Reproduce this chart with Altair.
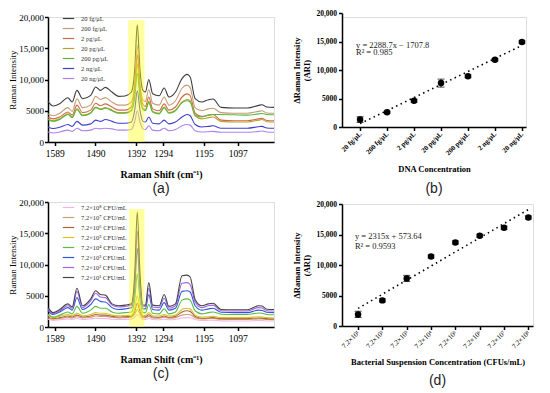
import altair as alt
import pandas as pd

SERIF = "Liberation Serif"
SANS = "Liberation Sans"

# ---------------- spectra (panels a, c) ----------------
# x = spectral point index (0-100 across the plotted range)
pos = [0, 2.3, 5.2, 8.8, 10.7, 12.8, 15.3, 18.9, 21.1, 23.2, 25.4, 28.3, 31.2, 34.1, 36.9,
       38.4, 39.5, 40.7, 42, 43.1, 44.6, 46.3, 49.2, 51.4, 53.5, 56.4, 59.3, 61.5, 62.9,
       65.1, 68, 71, 73, 76.6, 82.4, 88.2, 93.2, 94.7, 96.8, 100]
shift_tick_pos = [3, 21, 39, 51, 69, 84]
shift_tick_labels = ["1589", "1490", "1392", "1294", "1195", "1097"]
band_a = [35.5, 42.7, 19500]
band_c = [35.9, 42.7, 18900]

a_names = ["20 fg/μL", "200 fg/μL", "2 pg/μL", "20 pg/μL", "200 pg/μL", "2 ng/μL", "20 ng/μL"]
a_colors = ["#3c3c3c", "#c49c74", "#cf6a45", "#b9a232", "#5cb83c", "#3f3fcf", "#ad82ee"]
a_20fg = [6500, 5760, 6130, 7090, 6400, 8260, 6930, 7460, 8800, 8260, 8740, 8000, 7300, 7360, 8000,
          11700, 18760, 11500, 8260, 8000, 10000, 7730, 7400, 8640, 7200, 8000, 10130, 10820, 10400,
          6930, 6400, 6770, 6880, 5540, 5440, 5440, 5860, 5970, 5600, 5540]
a_200fg = [4530, 4200, 4600, 5500, 4900, 6900, 5500, 5900, 7300, 6800, 7100, 6400, 5900, 5900, 6400,
           9500, 15500, 9400, 6700, 6500, 8400, 6200, 5900, 7200, 5900, 6600, 8600, 9100, 8700,
           5500, 5000, 5300, 5400, 4700, 4600, 4600, 4900, 5000, 4650, 4600]
a_2pg = [4000, 3700, 4000, 4800, 4300, 5900, 4700, 5100, 6200, 5800, 6100, 5600, 5100, 5100, 5600,
         8600, 14000, 8500, 6000, 5700, 7200, 5300, 5000, 6100, 5100, 5600, 7200, 7700, 7400,
         4600, 4100, 4300, 4400, 3500, 3400, 3400, 3700, 3800, 3450, 3400]
a_20pg = [3700, 3400, 3700, 4500, 4000, 5300, 4300, 4700, 5600, 5300, 5500, 5100, 4700, 4700, 5100,
          7800, 12500, 7700, 5400, 5200, 6500, 4900, 4600, 5600, 4700, 5100, 6400, 6800, 6600,
          4200, 3700, 3900, 4000, 3300, 3200, 3200, 3500, 3600, 3250, 3200]
a_200pg = [3600, 3300, 3600, 4400, 3900, 5200, 4200, 4600, 5500, 5200, 5400, 5000, 4600, 4600, 5000,
           7200, 11000, 7100, 5200, 5000, 6300, 4800, 4500, 5500, 4600, 5000, 6300, 6600, 6400,
           4300, 4000, 4300, 4400, 4400, 4350, 4300, 4500, 4550, 4400, 4350]
a_2ng = [2400, 2150, 2350, 2800, 2500, 3300, 2700, 2900, 3500, 3300, 3600, 3300, 3000, 3000, 3200,
         5200, 8200, 5100, 3300, 3200, 4000, 3000, 2900, 3500, 2900, 3200, 4000, 4400, 4200,
         2800, 2400, 2500, 2600, 2200, 2200, 2200, 2450, 2500, 2250, 2200]
a_20ng = [1600, 1450, 1600, 1900, 1700, 2200, 1800, 1900, 2200, 2100, 2200, 2100, 1900, 1900, 2000,
          3300, 5000, 3200, 2100, 2000, 2600, 1900, 1800, 2200, 1800, 2000, 2600, 2800, 2700,
          1800, 1600, 1650, 1700, 1550, 1550, 1550, 1700, 1750, 1600, 1550]
a_series = [a_20fg, a_200fg, a_2pg, a_20pg, a_200pg, a_2ng, a_20ng]

c_names = ["7.2×10⁸ CFU/mL", "7.2×10⁷ CFU/mL", "7.2×10⁶ CFU/mL", "7.2×10⁵ CFU/mL",
           "7.2×10⁴ CFU/mL", "7.2×10³ CFU/mL", "7.2×10² CFU/mL", "7.2×10¹ CFU/mL"]
c_colors = ["#f2b6e6", "#c8a070", "#b0643a", "#d8c22a", "#5cbb42", "#3355e0", "#a465e6", "#454545"]
c_e8 = [1230, 1050, 1150, 1300, 1200, 1350, 1200, 1300, 1400, 1350, 1350, 1250, 1200, 1220, 1250,
        1600, 2000, 1600, 1220, 1220, 1350, 1200, 1150, 1250, 1150, 1200, 1450, 1500, 1480,
        1200, 1050, 1080, 1100, 980, 960, 960, 1030, 1020, 970, 960]
c_e7 = [1500, 1250, 1350, 1550, 1450, 1650, 1450, 1550, 1750, 1700, 1700, 1550, 1450, 1500, 1550,
        2100, 2800, 2100, 1500, 1500, 1700, 1450, 1400, 1550, 1400, 1500, 1900, 2000, 1950,
        1500, 1300, 1350, 1400, 1200, 1200, 1200, 1300, 1280, 1200, 1180]
c_e6 = [1660, 1350, 1500, 1750, 1600, 1900, 1600, 1750, 2000, 1900, 1900, 1700, 1600, 1650, 1700,
        2500, 3800, 2500, 1650, 1650, 1950, 1600, 1550, 1750, 1550, 1700, 2400, 2600, 2500,
        1700, 1400, 1450, 1500, 1350, 1340, 1340, 1450, 1420, 1340, 1300]
c_e5 = [1880, 1500, 1700, 2000, 1800, 2200, 1800, 2000, 2300, 2200, 2200, 1900, 1800, 1850, 1900,
        3000, 5000, 3000, 1850, 1850, 2300, 1800, 1750, 2000, 1750, 1900, 2800, 3000, 2900,
        1900, 1600, 1650, 1700, 1500, 1500, 1500, 1650, 1600, 1500, 1450]
c_e4 = [2050, 1600, 1900, 2400, 2100, 3300, 2200, 2700, 3300, 3000, 3000, 2400, 2200, 2300, 2400,
        4500, 8500, 4400, 2300, 2300, 3600, 2200, 2100, 2900, 2100, 2400, 4300, 4500, 4300,
        2600, 2100, 2300, 2400, 2050, 2000, 2000, 2250, 2200, 2000, 1950]
c_e3 = [2600, 2000, 2400, 3100, 2700, 4700, 2800, 3600, 4500, 4100, 4000, 3100, 2800, 2900, 3100,
        6300, 12600, 6200, 2900, 2900, 5200, 2800, 2700, 3900, 2700, 3000, 5700, 5800, 5600,
        3400, 2700, 2900, 3000, 2350, 2300, 2300, 2700, 2650, 2350, 2300]
c_e2 = [2850, 2100, 2600, 3400, 3000, 5700, 3100, 4200, 5400, 4800, 4700, 3500, 3200, 3300, 3500,
        7500, 15400, 7400, 3300, 3300, 6200, 3200, 3100, 4600, 3000, 3400, 7000, 7100, 6800,
        4000, 3100, 3400, 3500, 2600, 2550, 2550, 3100, 3050, 2600, 2550]
c_e1 = [3100, 2300, 2800, 3700, 3200, 6200, 3400, 4500, 5800, 5200, 5100, 3700, 3400, 3500, 3700,
        8700, 18400, 8600, 3500, 3500, 7100, 3500, 3400, 5200, 3300, 3700, 8200, 8300, 8000,
        4400, 3400, 3700, 3800, 2800, 2750, 2750, 3400, 3350, 2850, 2800]
c_series = [c_e8, c_e7, c_e6, c_e5, c_e4, c_e3, c_e2, c_e1]

# ---------------- calibration (panels b, d) ----------------
b_labels = ["20 fg/μL", "200 fg/μL", "2 pg/μL", "20 pg/μL", "200 pg/μL", "2 ng/μL", "20 ng/μL"]
b_vals = [1300, 2600, 4600, 7700, 8900, 11800, 14900]
b_err = [500, 150, 250, 700, 250, 200, 200]
b_fit_x = [1, 7]
b_fit_y = [590, 14310]
b_eq = ["y = 2288.7x − 1707.8", "R² = 0.985"]

d_labels = ["7.2×10¹", "7.2×10²", "7.2×10³", "7.2×10⁴", "7.2×10⁵", "7.2×10⁶", "7.2×10⁷", "7.2×10⁸"]
d_vals = [1900, 4200, 7800, 11400, 13700, 14800, 16100, 17800]
d_err = [500, 250, 500, 250, 250, 250, 250, 250]
d_fit_x = [1, 8]
d_fit_y = [2890, 19090]
d_eq = ["y = 2315x + 573.64", "R² = 0.9593"]

y_ticks = [0, 5000, 10000, 15000, 20000]
y_label_expr = "datum.value >= 10000 ? format(datum.value, ',') : format(datum.value, 'd')"


def axis_common(**kw):
    base = dict(domainColor="black", domainWidth=1.5, tickColor="black", tickWidth=1.5,
                tickSize=3.5, labelFont=SERIF, labelColor="black", titleFont=SERIF,
                titleColor="black", grid=False, labelOverlap=False, labelBound=False,
                labelFlush=False)
    base.update(kw)
    return alt.Axis(**base)


def spectrum(names, colors, series, band, legend_y, letter, w, h):
    rows = []
    for n, vals in zip(names, series):
        for p, v in zip(pos, vals):
            rows.append({"pos": p, "val": v, "series": n})
    df = pd.DataFrame(rows)
    expr = " : ".join(f"datum.value == {p} ? '{l}'" for p, l in zip(shift_tick_pos, shift_tick_labels)) + " : ''"
    xs = alt.Scale(domain=[0, 100], nice=False, zero=False)
    ys = alt.Scale(domain=[0, 20000], nice=False)
    xa = axis_common(values=shift_tick_pos, labelExpr=expr, title="Raman Shift (cm⁻¹)",
                     labelFontSize=9.5, titleFontSize=10, titleFontWeight="bold",
                     titlePadding=11, labelPadding=3)
    ya = axis_common(values=y_ticks, labelExpr=y_label_expr, title="Raman Intensity",
                     labelFontSize=9, titleFontSize=9, titleFontWeight="normal",
                     titlePadding=1, labelPadding=1)
    lines = alt.Chart(df).mark_line(strokeWidth=1.1, interpolate="monotone").encode(
        x=alt.X("pos:Q", scale=xs, axis=xa),
        y=alt.Y("val:Q", scale=ys, axis=ya),
        color=alt.Color("series:N", sort=names,
                        scale=alt.Scale(domain=names, range=colors),
                        legend=alt.Legend(title=None, orient="none", legendX=14, legendY=legend_y,
                                          symbolType="stroke", symbolSize=130, symbolStrokeWidth=1.2,
                                          labelFont=SERIF, labelFontSize=6.5, labelColor="#333",
                                          rowPadding=-3.5, labelOffset=6)),
        order=alt.Order("series:N"),
    )
    bdf = pd.DataFrame({"pos": [band[0]], "x2": [band[1]], "val": [0], "y2": [band[2]]})
    rect = alt.Chart(bdf).mark_rect(color="#ffff1a", opacity=0.42).encode(
        x=alt.X("pos:Q", scale=xs, axis=xa), x2="x2:Q",
        y=alt.Y("val:Q", scale=ys, axis=ya), y2="y2:Q")
    return alt.layer(lines, rect).properties(
        width=w, height=h,
        title=alt.TitleParams(letter, orient="bottom", font=SANS, fontSize=14,
                              fontWeight="normal", color="#222", offset=3))


def calib(labels, vals, err, fx, fy, eq, xtitle, letter, w, h, yrange, xmin, xmax, eqx, eqy,
          label_bold, title_pad, letter_offset):
    n = len(labels)
    df = pd.DataFrame({"i": list(range(1, n + 1)), "v": vals,
                       "lo": [v - e for v, e in zip(vals, err)],
                       "hi": [v + e for v, e in zip(vals, err)]})
    lab_list = "[" + ",".join(f"'{l}'" for l in labels) + "]"
    xs = alt.Scale(domain=[xmin, xmax], nice=False, zero=False)
    ys = alt.Scale(domain=[0, 20000], nice=False, range=yrange)
    xa = axis_common(values=list(range(1, n + 1)), labelExpr=f"{lab_list}[datum.value - 1]",
                     labelAngle=315, labelAlign="right", labelBaseline="middle",
                     labelFontSize=7, labelFontWeight="bold" if label_bold else "normal",
                     title=xtitle, titleFontSize=8.5, titleFontWeight="bold",
                     titlePadding=title_pad, labelPadding=2)
    ya = axis_common(values=y_ticks, labelExpr=y_label_expr,
                     title=["ΔRaman Intensity", "(ARI)"], labelFontSize=7.5,
                     labelFontWeight="bold", titleFontSize=8.5, titleFontWeight="bold",
                     titlePadding=4, labelPadding=2)
    X = lambda f: alt.X(f, scale=xs, axis=xa)
    Y = lambda f: alt.Y(f, scale=ys, axis=ya)
    base = alt.Chart(df)
    pts = base.mark_circle(size=42, color="black", opacity=1).encode(x=X("i:Q"), y=Y("v:Q"))
    bars = base.mark_rule(color="black", strokeWidth=1).encode(x=X("i:Q"), y=Y("lo:Q"), y2="hi:Q")
    caps_hi = base.mark_tick(color="black", thickness=1, size=7, orient="horizontal").encode(
        x=X("i:Q"), y=Y("hi:Q"))
    caps_lo = base.mark_tick(color="black", thickness=1, size=7, orient="horizontal").encode(
        x=X("i:Q"), y=Y("lo:Q"))
    fdf = pd.DataFrame({"i": fx, "v": fy})
    fit = alt.Chart(fdf).mark_line(color="black", strokeWidth=1.6, strokeDash=[1.5, 3.5]).encode(
        x=X("i:Q"), y=Y("v:Q"))
    tdf = pd.DataFrame({"i": [eqx, eqx], "v": eqy, "t": eq})
    txt = alt.Chart(tdf).mark_text(align="left", baseline="middle", font=SERIF, fontSize=8.5,
                                   color="#222").encode(x=X("i:Q"), y=Y("v:Q"), text="t:N")
    return alt.layer(pts, fit, bars, caps_hi, caps_lo, txt).properties(
        width=w, height=h,
        title=alt.TitleParams(letter, orient="bottom", font=SANS, fontSize=14,
                              fontWeight="normal", color="#222", offset=letter_offset))


pa = spectrum(a_names, a_colors, a_series, band_a, -5, "(a)", 226, 125)
pc = spectrum(c_names, c_colors, c_series, band_c, -1, "(c)", 226, 125)
pb = calib(b_labels, b_vals, b_err, b_fit_x, b_fit_y, b_eq, "DNA Concentration", "(b)",
           184, 110, [110, -4], 0.33, 7.15, 0.85, [14450, 13100], True, 9, 9)
pd_ = calib(d_labels, d_vals, d_err, d_fit_x, d_fit_y, d_eq,
            "Bacterial Suspension Concentration (CFUs/mL)", "(d)",
            191, 122, [122, 0], 0.34, 8.19, 0.87, [14750, 13100], False, 8, 8)

col1 = alt.vconcat(pa, pc, spacing=0).resolve_scale(color="independent")
col2 = alt.vconcat(pb, pd_, spacing=2).resolve_scale(color="independent")
chart = alt.hconcat(col1, col2, spacing=14).resolve_scale(color="independent").properties(
    padding={"left": 0, "top": 0, "right": 0, "bottom": 0}
).configure_view(stroke=None).configure_axis(labelOverlap=False).configure(background="white")

chart.save("out.html", embed_options={"renderer": "svg", "actions": False})
